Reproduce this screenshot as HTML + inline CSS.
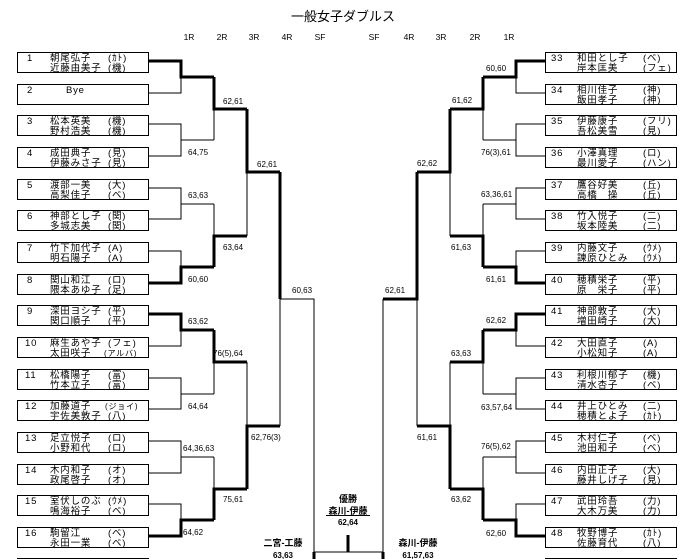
<!DOCTYPE html>
<html><head><meta charset="utf-8"><style>
html,body{margin:0;padding:0;background:#fff;}
svg{display:block;}
text{font-family:"Liberation Sans","Noto Sans CJK JP",sans-serif;fill:#000;}
.b{fill:none;stroke:#000;stroke-width:1;}
.n{stroke:#000;stroke-width:1;fill:none;}
.t{stroke:#000;stroke-width:3;fill:none;}
.nm{font-size:9.5px;letter-spacing:0.8px;}
.sc{font-size:8px;}
.hd{font-size:8.5px;}
</style></head><body>
<svg width="685" height="559" viewBox="0 0 685 559" xmlns="http://www.w3.org/2000/svg">
<text x="343" y="21" font-size="13" text-anchor="middle">一般女子ダブルス</text>
<g class="hd" text-anchor="middle">
<text x="189" y="40">1R</text><text x="222" y="40">2R</text><text x="254" y="40">3R</text><text x="287" y="40">4R</text><text x="320" y="40">SF</text>
<text x="374" y="40">SF</text><text x="409" y="40">4R</text><text x="441" y="40">3R</text><text x="475" y="40">2R</text><text x="509" y="40">1R</text>
</g>

<g class="b">
<rect x="17.5" y="52.5" width="131" height="20"/><rect x="17.5" y="84.5" width="131" height="20"/>
<rect x="17.5" y="115.5" width="131" height="20"/><rect x="17.5" y="147.5" width="131" height="20"/>
<rect x="17.5" y="179.5" width="131" height="20"/><rect x="17.5" y="210.5" width="131" height="20"/>
<rect x="17.5" y="242.5" width="131" height="20"/><rect x="17.5" y="274.5" width="131" height="20"/>
<rect x="17.5" y="305.5" width="131" height="20"/><rect x="17.5" y="337.5" width="131" height="20"/>
<rect x="17.5" y="369.5" width="131" height="20"/><rect x="17.5" y="400.5" width="131" height="20"/>
<rect x="17.5" y="432.5" width="131" height="20"/><rect x="17.5" y="464.5" width="131" height="20"/>
<rect x="17.5" y="495.5" width="131" height="20"/><rect x="17.5" y="527.5" width="131" height="20"/>
<rect x="17.5" y="558.5" width="131" height="20"/>
</g>
<g class="b">
<rect x="545.5" y="52.5" width="131" height="20"/><rect x="545.5" y="84.5" width="131" height="20"/>
<rect x="545.5" y="115.5" width="131" height="20"/><rect x="545.5" y="147.5" width="131" height="20"/>
<rect x="545.5" y="179.5" width="131" height="20"/><rect x="545.5" y="210.5" width="131" height="20"/>
<rect x="545.5" y="242.5" width="131" height="20"/><rect x="545.5" y="274.5" width="131" height="20"/>
<rect x="545.5" y="305.5" width="131" height="20"/><rect x="545.5" y="337.5" width="131" height="20"/>
<rect x="545.5" y="369.5" width="131" height="20"/><rect x="545.5" y="400.5" width="131" height="20"/>
<rect x="545.5" y="432.5" width="131" height="20"/><rect x="545.5" y="464.5" width="131" height="20"/>
<rect x="545.5" y="495.5" width="131" height="20"/><rect x="545.5" y="527.5" width="131" height="20"/>
<rect x="545.5" y="558.5" width="131" height="20"/>
</g>

<g class="nm">
<text x="27" y="61">1</text><text x="50" y="61">朝尾弘子</text><text x="108" y="61">(ｶﾄ)</text><text x="50" y="71">近藤由美子</text><text x="108" y="71">(機)</text>
<text x="27" y="93">2</text><text x="66" y="93">Bye</text>
<text x="27" y="124">3</text><text x="50" y="124">松本英美</text><text x="108" y="124">(機)</text><text x="50" y="134">野村浩美</text><text x="108" y="134">(機)</text>
<text x="27" y="156">4</text><text x="50" y="156">成田典子</text><text x="108" y="156">(見)</text><text x="50" y="166">伊藤みさ子</text><text x="108" y="166">(見)</text>
<text x="27" y="188">5</text><text x="50" y="188">渡部一美</text><text x="108" y="188">(大)</text><text x="50" y="198">高梨佳子</text><text x="108" y="198">(ベ)</text>
<text x="27" y="219">6</text><text x="50" y="219">神部とし子</text><text x="108" y="219">(関)</text><text x="50" y="229">多城志美</text><text x="108" y="229">(関)</text>
<text x="27" y="251">7</text><text x="50" y="251">竹下加代子</text><text x="108" y="251">(A)</text><text x="50" y="261">明石陽子</text><text x="108" y="261">(A)</text>
<text x="27" y="283">8</text><text x="50" y="283">関山和江</text><text x="108" y="283">(ロ)</text><text x="50" y="293">隈本あゆ子</text><text x="108" y="293">(足)</text>
<text x="27" y="314">9</text><text x="50" y="314">深田ヨシ子</text><text x="108" y="314">(平)</text><text x="50" y="324">関口順子</text><text x="108" y="324">(平)</text>
<text x="25" y="346">10</text><text x="50" y="346">麻生あや子</text><text x="108" y="346">(フェ)</text><text x="50" y="356">太田咲子</text><text x="104" y="356" font-size="8">(アルバ)</text>
<text x="25" y="378">11</text><text x="50" y="378">松橋陽子</text><text x="108" y="378">(富)</text><text x="50" y="388">竹本立子</text><text x="108" y="388">(富)</text>
<text x="25" y="409">12</text><text x="50" y="409">加藤道子</text><text x="105" y="409" font-size="8">(ジョイ)</text><text x="50" y="419">宇佐美敦子</text><text x="108" y="419">(八)</text>
<text x="25" y="441">13</text><text x="50" y="441">足立悦子</text><text x="108" y="441">(ロ)</text><text x="50" y="451">小野和代</text><text x="108" y="451">(ロ)</text>
<text x="25" y="473">14</text><text x="50" y="473">木内和子</text><text x="108" y="473">(オ)</text><text x="50" y="483">政尾啓子</text><text x="108" y="483">(オ)</text>
<text x="25" y="504">15</text><text x="50" y="504">室伏しのぶ</text><text x="108" y="504">(ｳﾒ)</text><text x="50" y="514">鳴海裕子</text><text x="108" y="514">(ベ)</text>
<text x="25" y="536">16</text><text x="50" y="536">駒留江</text><text x="108" y="536">(ベ)</text><text x="50" y="546">永田一業</text><text x="108" y="546">(ベ)</text>
</g>
<g class="nm">
<text x="551" y="61">33</text><text x="577" y="61">和田とし子</text><text x="643" y="61">(ベ)</text><text x="577" y="71">岸本匡美</text><text x="643" y="71">(フェ)</text>
<text x="551" y="93">34</text><text x="577" y="93">相川佳子</text><text x="643" y="93">(神)</text><text x="577" y="103">飯田孝子</text><text x="643" y="103">(神)</text>
<text x="551" y="124">35</text><text x="577" y="124">伊藤康子</text><text x="643" y="124">(フリ)</text><text x="577" y="134">吾松美雪</text><text x="643" y="134">(見)</text>
<text x="551" y="156">36</text><text x="577" y="156">小澤真理</text><text x="643" y="156">(ロ)</text><text x="577" y="166">最川愛子</text><text x="643" y="166">(ハン)</text>
<text x="551" y="188">37</text><text x="577" y="188">鷹谷好美</text><text x="643" y="188">(丘)</text><text x="577" y="198">高橋　操</text><text x="643" y="198">(丘)</text>
<text x="551" y="219">38</text><text x="577" y="219">竹入悦子</text><text x="643" y="219">(二)</text><text x="577" y="229">坂本陸美</text><text x="643" y="229">(二)</text>
<text x="551" y="251">39</text><text x="577" y="251">内藤文子</text><text x="643" y="251">(ｳﾒ)</text><text x="577" y="261">諫原ひとみ</text><text x="643" y="261">(ｳﾒ)</text>
<text x="551" y="283">40</text><text x="577" y="283">穂積栄子</text><text x="643" y="283">(平)</text><text x="577" y="293">原　栄子</text><text x="643" y="293">(平)</text>
<text x="551" y="314">41</text><text x="577" y="314">神部敦子</text><text x="643" y="314">(大)</text><text x="577" y="324">増田崎子</text><text x="643" y="324">(大)</text>
<text x="551" y="346">42</text><text x="577" y="346">大田直子</text><text x="643" y="346">(A)</text><text x="577" y="356">小松知子</text><text x="643" y="356">(A)</text>
<text x="551" y="378">43</text><text x="577" y="378">利根川郁子</text><text x="643" y="378">(機)</text><text x="577" y="388">清水杏子</text><text x="643" y="388">(ベ)</text>
<text x="551" y="409">44</text><text x="577" y="409">井上ひとみ</text><text x="643" y="409">(二)</text><text x="577" y="419">穂積とよ子</text><text x="643" y="419">(ｶﾄ)</text>
<text x="551" y="441">45</text><text x="577" y="441">木村仁子</text><text x="643" y="441">(ベ)</text><text x="577" y="451">池田和子</text><text x="643" y="451">(ベ)</text>
<text x="551" y="473">46</text><text x="577" y="473">内田正子</text><text x="643" y="473">(大)</text><text x="577" y="483">藤井しげ子</text><text x="643" y="483">(見)</text>
<text x="551" y="504">47</text><text x="577" y="504">武田玲吾</text><text x="643" y="504">(力)</text><text x="577" y="514">大木万美</text><text x="643" y="514">(力)</text>
<text x="551" y="536">48</text><text x="577" y="536">牧野博子</text><text x="643" y="536">(ｶﾄ)</text><text x="577" y="546">佐藤育代</text><text x="643" y="546">(八)</text>
</g>

<path class="n" d="M148 93H181V77 M148 124H181V156H148 M181 140H214 M148 188H181V219H148 M181 204H214 M148 251H181V267 M148 346H181V330 M148 378H181V409H148 M181 394H214 M148 441H181V473H148 M181 457H214 M148 504H181V520"/>
<path class="t" d="M148 61H181V77H214 M148 283H181V267H214 M148 314H181V330H214 M148 536H181V520H214"/>
<path class="n" d="M214 109V140 M214 204V236 M214 362V394 M214 457V489"/>
<path class="t" d="M214 77V109H247 M214 267V236H247 M214 330V362H247 M214 520V489H247"/>
<path class="n" d="M247 172V236 M247 362V426"/>
<path class="t" d="M247 109V172H280 M247 489V426H280"/>
<path class="n" d="M280 299V426 M280 299H314V552"/>
<path class="t" d="M280 172V299 M314 552V559"/>

<path class="n" d="M545 93H516V77 M545 124H516V156H545 M516 140H483 M545 188H516V219H545 M516 204H483 M545 251H516V267 M545 346H516V330 M545 378H516V409H545 M516 394H483 M545 441H516V473H545 M516 457H483 M545 504H516V520"/>
<path class="t" d="M545 61H516V77H483 M545 283H516V267H483 M545 314H516V330H483 M545 536H516V520H483"/>
<path class="n" d="M483 109V140 M483 204V236 M483 362V394 M483 457V489"/>
<path class="t" d="M483 77V109H450 M483 267V236H450 M483 330V362H450 M483 520V489H450"/>
<path class="n" d="M450 172V236 M450 362V426"/>
<path class="t" d="M450 109V172H417 M450 489V426H417"/>
<path class="n" d="M417 299V426 M383 299V552"/>
<path class="t" d="M417 172V299H383 M383 552V559"/>

<path class="n" d="M314 552H383"/>
<path class="t" d="M348 535V552"/>

<g class="sc">
<text x="223" y="104">62,61</text>
<text x="188" y="155">64,75</text>
<text x="257" y="167">62,61</text>
<text x="188" y="198">63,63</text>
<text x="223" y="250">63,64</text>
<text x="188" y="282">60,60</text>
<text x="292" y="293">60,63</text>
<text x="188" y="324">63,62</text>
<text x="213" y="356">76(5),64</text>
<text x="188" y="409">64,64</text>
<text x="251" y="440">62,76(3)</text>
<text x="183" y="451">64,36,63</text>
<text x="223" y="502">75,61</text>
<text x="183" y="535">64,62</text>
</g>
<g class="sc">
<text x="486" y="71">60,60</text>
<text x="452" y="103">61,62</text>
<text x="481" y="155">76(3),61</text>
<text x="417" y="166">62,62</text>
<text x="481" y="197">63,36,61</text>
<text x="451" y="250">61,63</text>
<text x="486" y="282">61,61</text>
<text x="385" y="293">62,61</text>
<text x="486" y="323">62,62</text>
<text x="451" y="356">63,63</text>
<text x="481" y="410">63,57,64</text>
<text x="417" y="440">61,61</text>
<text x="481" y="449">76(5),62</text>
<text x="451" y="502">63,62</text>
<text x="486" y="536">62,60</text>
</g>

<g font-weight="bold" text-anchor="middle" font-size="9">
<text x="348" y="502">優勝</text>
<text x="348" y="514">森川-伊藤</text>
<text x="348" y="525" font-size="8">62,64</text>
<text x="283" y="546">二宮-工藤</text>
<text x="283" y="558" font-size="8">63,63</text>
<text x="418" y="546">森川-伊藤</text>
<text x="418" y="558" font-size="8">61,57,63</text>
</g>
<path class="n" d="M326 515.5H370"/>
</svg>
</body></html>
